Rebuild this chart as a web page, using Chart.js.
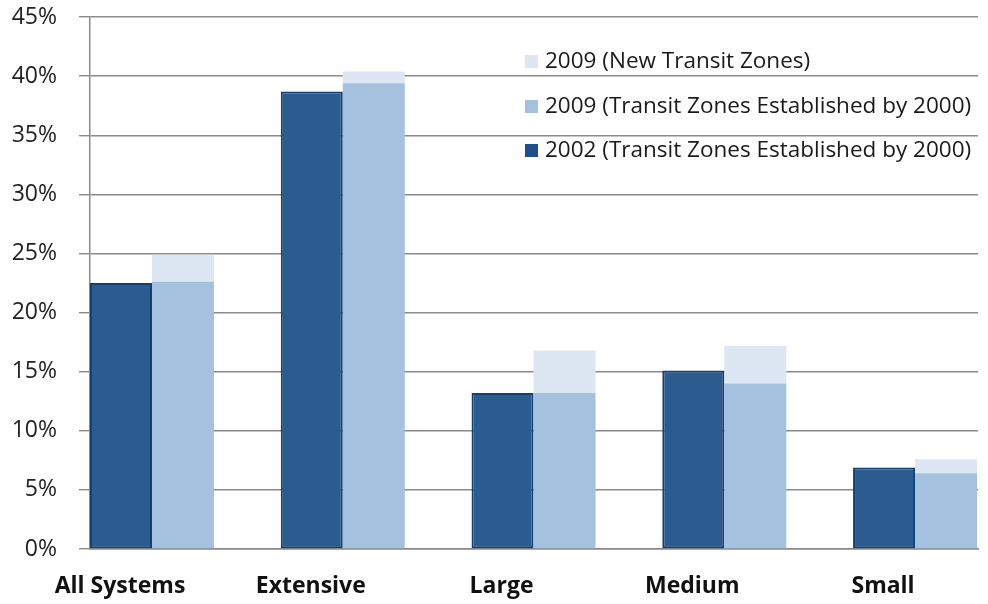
<!DOCTYPE html>
<html><head><meta charset="utf-8">
<script src="https://cdn.jsdelivr.net/npm/chart.js@4"></script>
<style>html,body{margin:0;padding:0;background:#fff;}#wrap{width:988px;height:604px;position:relative;}</style>
</head><body><div id="wrap"><canvas id="c" width="988" height="604"></canvas></div>
<script>
const categories = ['All Systems', 'Extensive', 'Large', 'Medium', 'Small'];
const series2002 = [22.5, 38.7, 13.2, 15.1, 6.9];
const series2009Established = [22.6, 39.4, 13.2, 14.0, 6.4];
const series2009New = [2.3, 1.0, 3.6, 3.2, 1.2];
const yTickValues = [0, 5, 10, 15, 20, 25, 30, 35, 40, 45];
const seriesLabels = ['2002 (Transit Zones Established by 2000)', '2009 (Transit Zones Established by 2000)', '2009 (New Transit Zones)'];

const FONT = "'Open Sans', sans-serif";
const toPoints = arr => arr.map((v, i) => ({ x: i, y: v }));

const legendPlugin = {
  id: 'insideLegend',
  afterDraw(chart) {
    const ctx = chart.ctx;
    const order = [2, 1, 0];
    const ys = [62, 107, 151];
    ctx.save();
    ctx.font = '22.5px ' + FONT;
    ctx.textBaseline = 'middle';
    ctx.textAlign = 'left';
    order.forEach((di, k) => {
      const ds = chart.data.datasets[di];
      ctx.fillStyle = ds.legendColor || ds.backgroundColor;
      ctx.fillRect(525, ys[k] - 7, 13, 13);
      ctx.fillStyle = '#1a1a1a';
      ctx.fillText(ds.label, 545, ys[k]);
    });
    ctx.restore();
  }
};

new Chart(document.getElementById('c'), {
  type: 'bar',
  data: {
    datasets: [
      { label: seriesLabels[0], data: toPoints(series2002), backgroundColor: '#2b5c8f', borderColor: '#123f76', borderWidth: 2, borderSkipped: false, stack: 'a', legendColor: '#1f4f8f' },
      { label: seriesLabels[1], data: toPoints(series2009Established), backgroundColor: '#a4c1e0', borderWidth: 0, stack: 'b' },
      { label: seriesLabels[2], data: toPoints(series2009New), backgroundColor: '#dde7f3', borderWidth: 0, stack: 'b' }
    ]
  },
  options: {
    responsive: false,
    animation: false,
    devicePixelRatio: 1,
    categoryPercentage: 0.65,
    barPercentage: 1.0,
    layout: { padding: { left: 0, right: 10, top: 17, bottom: 0 } },
    plugins: { legend: { display: false }, tooltip: { enabled: false } },
    scales: {
      x: {
        type: 'linear',
        stacked: true,
        offset: false,
        min: -0.325,
        max: 4.33,
        afterBuildTicks: s => { s.ticks = categories.map((c, i) => ({ value: i })); },
        afterFit: s => { s.height = 55; s.paddingLeft = 0; s.paddingRight = 0; },
        grid: { display: false, offset: false },
        border: { display: true, color: '#8a8a8a', width: 1.5 },
        ticks: {
          autoSkip: false, maxRotation: 0, labelOffset: -32, padding: 16,
          color: '#111', font: { family: FONT, size: 23, weight: 'bold' },
          callback: v => categories[v]
        }
      },
      y: {
        stacked: true,
        min: 0, max: 45,
        afterBuildTicks: s => { s.ticks = yTickValues.map(v => ({ value: v })); },
        afterFit: s => { s.width = 90; s.paddingTop = 0; s.paddingBottom = 0; },
        grid: { color: '#8a8a8a', lineWidth: 1.4, tickLength: 11, drawTicks: true },
        border: { display: true, color: '#8a8a8a', width: 1.5 },
        ticks: { padding: 22, color: '#222', font: { family: FONT, size: 23 }, callback: v => v + '%' }
      }
    }
  },
  plugins: [legendPlugin]
});
</script></body></html>
